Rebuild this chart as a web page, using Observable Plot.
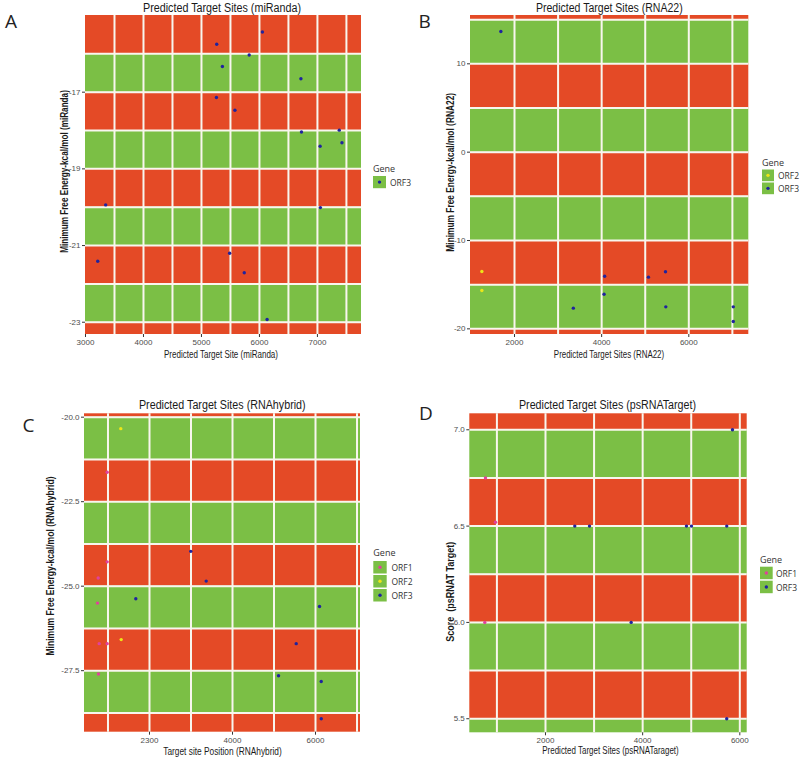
<!DOCTYPE html>
<html><head><meta charset="utf-8">
<script src="https://cdn.jsdelivr.net/npm/d3@7"></script>
<script src="https://cdn.jsdelivr.net/npm/@observablehq/plot@0.6"></script>
<style>
html,body{margin:0;padding:0;background:#fff;}
#page{position:relative;width:800px;height:759px;overflow:hidden;background:#fff;}
.panel{position:absolute;}
</style></head><body><div id="page"></div>
<script>
// ---------- data ----------
const genes = ["ORF1", "ORF2", "ORF3"];
const geneColors = ["#E0419C", "#ECE619", "#1F239E"];

// Panel A: miRanda
const aSite   = [5263, 6051, 5823, 5361, 6715, 5258, 5577, 6725, 7377, 7046, 7423, 3348, 7051, 3211, 5486, 5738, 6132];
const aEnergy = [-15.75, -15.43, -16.03, -16.33, -16.65, -17.14, -17.47, -18.04, -17.99, -18.41, -18.32, -19.94, -20.01, -21.41, -21.20, -21.71, -22.93];
const aGene   = ["ORF3","ORF3","ORF3","ORF3","ORF3","ORF3","ORF3","ORF3","ORF3","ORF3","ORF3","ORF3","ORF3","ORF3","ORF3","ORF3","ORF3"];
const aXTicks = [3000, 4000, 5000, 6000, 7000];
const aXTickLabels = ["3000", "4000", "5000", "6000", "7000"];
const aXMinor = [3500, 4500, 5500, 6500, 7500];
const aYTicks = [-17, -19, -21, -23];
const aYTickLabels = ["-17", "-19", "-21", "-23"];
const aYMinor = [-16, -18, -20, -22];

// Panel B: RNA22
const bSite   = [1687, 1251, 1251, 4069, 5074, 5465, 4055, 3350, 5472, 7021, 7021];
const bEnergy = [13.66, -13.51, -15.66, -14.04, -14.15, -13.54, -16.08, -17.66, -17.51, -17.51, -19.17];
const bGene   = ["ORF3","ORF2","ORF2","ORF3","ORF3","ORF3","ORF3","ORF3","ORF3","ORF3","ORF3"];
const bXTicks = [2000, 4000, 6000];
const bXTickLabels = ["2000", "4000", "6000"];
const bXMinor = [3000, 5000, 7000];
const bYTicks = [10, 0, -10, -20];
const bYTickLabels = ["10", "0", "-10", "-20"];
const bYMinor = [15, 5, -5, -15];

// Panel C: RNAhybrid
const cSite   = [1308, 981, 2995, 981, 764, 3366, 1670, 747, 6097, 788, 981, 1318, 5535, 771, 5109, 6138, 6138];
const cEnergy = [-20.34, -21.63, -23.97, -24.28, -24.76, -24.85, -25.37, -25.50, -25.60, -26.70, -26.70, -26.58, -26.70, -27.60, -27.65, -27.82, -28.92];
const cGene   = ["ORF2","ORF1","ORF3","ORF1","ORF1","ORF3","ORF3","ORF1","ORF3","ORF1","ORF1","ORF2","ORF3","ORF1","ORF3","ORF3","ORF3"];
const cXTicks = [2000, 4000, 6000];
const cXTickLabels = ["2300", "4000", "6000"];
const cXMinor = [1000, 3000, 5000, 7000];
const cYTicks = [-20, -22.5, -25, -27.5];
const cYTickLabels = ["-20.0", "-22.5", "-25.0", "-27.5"];
const cYMinor = [-21.25, -23.75, -26.25, -28.75];

// Panel D: psRNATarget
const dSite  = [5849, 765, 971, 2603, 2906, 4902, 5005, 5731, 751, 3764, 5731];
const dScore = [7.0, 6.75, 6.52, 6.5, 6.5, 6.5, 6.5, 6.5, 6.0, 6.0, 5.5];
const dGene  = ["ORF3","ORF1","ORF1","ORF3","ORF3","ORF3","ORF3","ORF3","ORF1","ORF3","ORF3"];
const dXTicks = [2000, 4000, 6000];
const dXTickLabels = ["2000", "4000", "6000"];
const dXMinor = [1000, 3000, 5000];
const dYTicks = [7.0, 6.5, 6.0, 5.5];
const dYTickLabels = ["7.0", "6.5", "6.0", "5.5"];
const dYMinor = [6.75, 6.25, 5.75];

// ---------- layout ----------
const RED = "#E44A26", GREEN = "#7BBF45", GRID = "#f8f6ee";

const panels = [
  {site: aSite, val: aEnergy, gene: aGene, xT: aXTicks, xL: aXTickLabels, xM: aXMinor, yT: aYTicks, yL: aYTickLabels, yM: aYMinor,
   left: 0, top: 0, width: 400, height: 370, mL: 85, mR: 39, mT: 15, mB: 36, xDom: [3000, 7760], yDom: [-23.32, -15.0]},
  {site: bSite, val: bEnergy, gene: bGene, xT: bXTicks, xL: bXTickLabels, xM: bXMinor, yT: bYTicks, yL: bYTickLabels, yM: bYMinor,
   left: 400, top: 0, width: 400, height: 370, mL: 70, mR: 51.7, mT: 15, mB: 36, xDom: [990, 7377], yDom: [-20.64, 15.47]},
  {site: cSite, val: cEnergy, gene: cGene, xT: cXTicks, xL: cXTickLabels, xM: cXMinor, yT: cYTicks, yL: cYTickLabels, yM: cYMinor,
   left: 0, top: 370, width: 400, height: 389, mL: 84, mR: 40, mT: 43.3, mB: 27.3, xDom: [434, 7084], yDom: [-29.32, -19.9]},
  {site: dSite, val: dScore, gene: dGene, xT: dXTicks, xL: dXTickLabels, xM: dXMinor, yT: dYTicks, yL: dYTickLabels, yM: dYMinor,
   left: 400, top: 370, width: 400, height: 389, mL: 69.3, mR: 53.3, mT: 43.3, mB: 26.7, xDom: [442, 6152], yDom: [5.427, 7.083]}
];

const page = document.getElementById("page");

for (const p of panels) {
  const data = p.site.map((s, i) => ({site: s, val: p.val[i], gene: p.gene[i]}));
  const grid = [...p.yT, ...p.yM].sort((a, b) => b - a);
  const edges = [p.yDom[1], ...grid, p.yDom[0]];
  const bands = [];
  for (let i = 0; i < edges.length - 1; i++) bands.push({y1: edges[i], y2: edges[i + 1], red: i % 2 === 0});
  const xl = new Map(p.xT.map((t, i) => [t, p.xL[i]]));
  const yl = new Map(p.yT.map((t, i) => [t, p.yL[i]]));
  const chart = Plot.plot({
    width: p.width, height: p.height,
    marginLeft: p.mL, marginRight: p.mR, marginTop: p.mT, marginBottom: p.mB,
    style: {fontFamily: "Liberation Sans, Arial, sans-serif", fontSize: "8px", background: "transparent", overflow: "visible"},
    x: {domain: p.xDom},
    y: {domain: p.yDom},
    color: {type: "ordinal", domain: genes, range: geneColors},
    marks: [
      Plot.rect(bands.filter(b => b.red), {x1: () => p.xDom[0], x2: () => p.xDom[1], y1: "y1", y2: "y2", fill: RED}),
      Plot.rect(bands.filter(b => !b.red), {x1: () => p.xDom[0], x2: () => p.xDom[1], y1: "y1", y2: "y2", fill: GREEN}),
      Plot.ruleY(grid, {stroke: GRID, strokeWidth: 2}),
      Plot.ruleX([...p.xT, ...p.xM].filter(v => v > p.xDom[0] && v < p.xDom[1]), {stroke: GRID, strokeWidth: 2}),
      Plot.dot(data, {x: "site", y: "val", fill: "gene", r: 1.7}),
      Plot.axisX(p.xT, {tickFormat: d => xl.get(d), tickSize: 3, tickPadding: 2, fontSize: 8, stroke: "#333", fill: "#4d4d4d", label: null}),
      Plot.axisY(p.yT, {tickFormat: d => yl.get(d), tickSize: 3, tickPadding: 2, fontSize: 8, stroke: "#333", fill: "#4d4d4d", label: null})
    ]
  });
  const div = document.createElement("div");
  div.className = "panel";
  div.style.left = p.left + "px";
  div.style.top = p.top + "px";
  div.appendChild(chart);
  page.appendChild(div);
}

// ---------- text overlay: titles, axis titles, panel letters, legends ----------
const titles = [
  {t: "Predicted Target Sites (miRanda)", x: 222, y: 12, len: 158},
  {t: "Predicted Target Sites (RNA22)", x: 609.3, y: 12, len: 146.7},
  {t: "Predicted Target Sites (RNAhybrid)", x: 222.3, y: 408.5, len: 166.7},
  {t: "Predicted Target Sites (psRNATarget)", x: 607.5, y: 408.5, len: 177}
];
const xLabels = [
  {t: "Predicted Target Site (miRanda)", x: 221, y: 357.5, len: 114},
  {t: "Predicted Target Sites (RNA22)", x: 609, y: 357.5, len: 110.3},
  {t: "Target site Position (RNAhybrid)", x: 222.5, y: 754.5, len: 118.4},
  {t: "Predicted Target Sites (psRNATaraget)", x: 610.5, y: 754, len: 136.4}
];
const yLabels = [
  {t: "Minimum Free Energy-kcal/mol (miRanda)", x: 67.5, y: 171.5, len: 162.7},
  {t: "Minimum Free Energy-kcal/mol (RNA22)", x: 454, y: 172.3, len: 158.7},
  {t: "Minimum Free Energy-kcal/mol (RNAhybrid)", x: 53.5, y: 566, len: 179},
  {t: "Score  (psRNAT Target)", x: 453.5, y: 591.7, len: 100}
];
const letters = [
  {t: "A", x: 5, y: 28.3}, {t: "B", x: 418.5, y: 28.3}, {t: "C", x: 22.5, y: 431.5}, {t: "D", x: 419, y: 420}
];
const legends = [
  {x: 373, titleY: 172, keyTop: 176, keyW: 13, keyH: 13, step: 13.5, labelX: 390, genes: ["ORF3"]},
  {x: 762, titleY: 166, keyTop: 169.5, keyW: 12, keyH: 12.5, step: 13, labelX: 778, genes: ["ORF2", "ORF3"]},
  {x: 373.3, titleY: 555.7, keyTop: 561, keyW: 13.4, keyH: 13.3, step: 14, labelX: 391.5, genes: ["ORF1", "ORF2", "ORF3"]},
  {x: 760, titleY: 563.3, keyTop: 566.7, keyW: 12.7, keyH: 13.3, step: 14, labelX: 776, genes: ["ORF1", "ORF3"]}
];

const ov = d3.select(page).append("svg")
  .attr("width", 800).attr("height", 759)
  .style("position", "absolute").style("left", "0px").style("top", "0px")
  .style("pointer-events", "none");

const sans = "Liberation Sans, Arial, sans-serif";
for (const d of titles) {
  ov.append("text").text(d.t).attr("x", d.x).attr("y", d.y)
    .attr("text-anchor", "middle").attr("font-family", sans).attr("font-size", 12)
    .attr("fill", "#1a1a1a").attr("textLength", d.len).attr("lengthAdjust", "spacingAndGlyphs");
}
for (const d of xLabels) {
  ov.append("text").text(d.t).attr("x", d.x).attr("y", d.y)
    .attr("text-anchor", "middle").attr("font-family", sans).attr("font-size", 10.5)
    .attr("fill", "#1a1a1a").attr("textLength", d.len).attr("lengthAdjust", "spacingAndGlyphs");
}
for (const d of yLabels) {
  ov.append("text").text(d.t).attr("transform", `translate(${d.x},${d.y}) rotate(-90)`)
    .attr("text-anchor", "middle").attr("font-family", sans).attr("font-size", 10.5).attr("font-weight", "bold")
    .attr("xml:space", "preserve")
    .attr("fill", "#1a1a1a").attr("textLength", d.len).attr("lengthAdjust", "spacingAndGlyphs");
}
for (const d of letters) {
  ov.append("text").text(d.t).attr("x", d.x).attr("y", d.y)
    .attr("font-family", "Open Sans, sans-serif").attr("font-size", 19).attr("fill", "#222");
}
for (const L of legends) {
  ov.append("text").text("Gene").attr("x", L.x).attr("y", L.titleY)
    .attr("font-family", "Open Sans, sans-serif").attr("font-size", 9).attr("fill", "#333");
  L.genes.forEach((g, i) => {
    const y0 = L.keyTop + i * L.step;
    ov.append("rect").attr("x", L.x).attr("y", y0).attr("width", L.keyW).attr("height", L.keyH - 0.8).attr("fill", GREEN);
    ov.append("circle").attr("cx", L.x + L.keyW / 2).attr("cy", y0 + (L.keyH - 0.8) / 2).attr("r", 1.7)
      .attr("fill", geneColors[genes.indexOf(g)]);
    ov.append("text").text(g).attr("x", L.labelX).attr("y", y0 + L.keyH / 2 + 3.2)
      .attr("font-family", "Open Sans, sans-serif").attr("font-size", 8.5).attr("fill", "#333");
  });
}
</script>
</body></html>
